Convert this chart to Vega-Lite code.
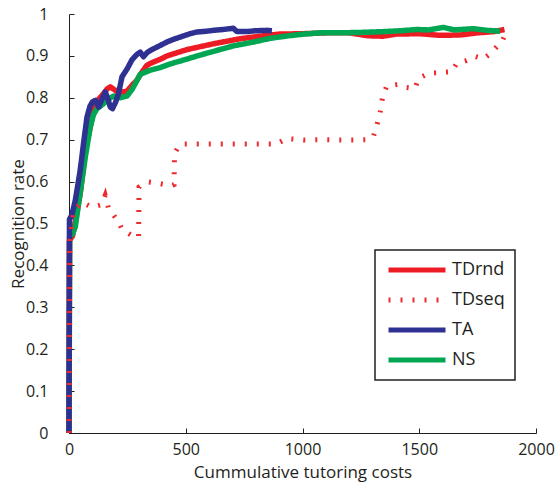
{
  "$schema": "https://vega.github.io/schema/vega-lite/v6.json",
  "width": 467,
  "height": 419,
  "autosize": "none",
  "padding": {"left": 69, "top": 14, "right": 20, "bottom": 49},
  "background": "white",
  "config": {
    "font": "Open Sans",
    "view": {"stroke": null},
    "axis": {
      "domainColor": "#231F20",
      "domainWidth": 1,
      "tickColor": "#231F20",
      "tickWidth": 1,
      "tickSize": -5,
      "labelColor": "#231F20",
      "titleColor": "#231F20",
      "labelFontSize": 16,
      "titleFontSize": 17,
      "titleFontWeight": "normal",
      "grid": false
    },
    "legend": {
      "orient": "none",
      "legendX": 306,
      "legendY": 236,
      "strokeColor": "#231F20",
      "strokeWidth": 1.5,
      "fillColor": "white",
      "padding": 10,
      "labelFontSize": 18,
      "labelColor": "#231F20",
      "symbolType": "M-4,0H4",
      "symbolSize": 203,
      "symbolStrokeWidth": 5,
      "symbolOffset": 22,
      "rowPadding": 10,
      "labelOffset": 25
    }
  },
  "data": {
    "values": [
      {"series": "TA", "cost": 0, "rate": 0},
      {"series": "TA", "cost": 2, "rate": 0.51},
      {"series": "TA", "cost": 12, "rate": 0.52},
      {"series": "TA", "cost": 27, "rate": 0.555},
      {"series": "TA", "cost": 48, "rate": 0.627},
      {"series": "TA", "cost": 62, "rate": 0.69},
      {"series": "TA", "cost": 77, "rate": 0.754},
      {"series": "TA", "cost": 90, "rate": 0.78},
      {"series": "TA", "cost": 100, "rate": 0.79},
      {"series": "TA", "cost": 113, "rate": 0.794},
      {"series": "TA", "cost": 127, "rate": 0.778},
      {"series": "TA", "cost": 140, "rate": 0.795},
      {"series": "TA", "cost": 155, "rate": 0.814},
      {"series": "TA", "cost": 165, "rate": 0.8},
      {"series": "TA", "cost": 177, "rate": 0.778},
      {"series": "TA", "cost": 186, "rate": 0.774},
      {"series": "TA", "cost": 200, "rate": 0.79},
      {"series": "TA", "cost": 212, "rate": 0.81},
      {"series": "TA", "cost": 227, "rate": 0.85},
      {"series": "TA", "cost": 250, "rate": 0.87},
      {"series": "TA", "cost": 270, "rate": 0.891},
      {"series": "TA", "cost": 290, "rate": 0.903},
      {"series": "TA", "cost": 305, "rate": 0.909},
      {"series": "TA", "cost": 319, "rate": 0.898},
      {"series": "TA", "cost": 335, "rate": 0.908},
      {"series": "TA", "cost": 348, "rate": 0.913},
      {"series": "TA", "cost": 380, "rate": 0.922},
      {"series": "TA", "cost": 419, "rate": 0.933},
      {"series": "TA", "cost": 450, "rate": 0.94},
      {"series": "TA", "cost": 476, "rate": 0.945},
      {"series": "TA", "cost": 519, "rate": 0.953},
      {"series": "TA", "cost": 548, "rate": 0.957},
      {"series": "TA", "cost": 590, "rate": 0.959},
      {"series": "TA", "cost": 619, "rate": 0.961},
      {"series": "TA", "cost": 660, "rate": 0.963},
      {"series": "TA", "cost": 704, "rate": 0.966},
      {"series": "TA", "cost": 719, "rate": 0.958},
      {"series": "TA", "cost": 760, "rate": 0.958},
      {"series": "TA", "cost": 800, "rate": 0.96},
      {"series": "TA", "cost": 847, "rate": 0.961},
      {"series": "TA", "cost": 869, "rate": 0.96},

      {"series": "TDrnd", "cost": 0, "rate": 0},
      {"series": "TDrnd", "cost": 2, "rate": 0.46},
      {"series": "TDrnd", "cost": 15, "rate": 0.47},
      {"series": "TDrnd", "cost": 20, "rate": 0.484},
      {"series": "TDrnd", "cost": 35, "rate": 0.53},
      {"series": "TDrnd", "cost": 48, "rate": 0.571},
      {"series": "TDrnd", "cost": 70, "rate": 0.675},
      {"series": "TDrnd", "cost": 91, "rate": 0.73},
      {"series": "TDrnd", "cost": 105, "rate": 0.77},
      {"series": "TDrnd", "cost": 125, "rate": 0.795},
      {"series": "TDrnd", "cost": 148, "rate": 0.81},
      {"series": "TDrnd", "cost": 165, "rate": 0.822},
      {"series": "TDrnd", "cost": 177, "rate": 0.826},
      {"series": "TDrnd", "cost": 198, "rate": 0.818},
      {"series": "TDrnd", "cost": 212, "rate": 0.812},
      {"series": "TDrnd", "cost": 248, "rate": 0.816},
      {"series": "TDrnd", "cost": 270, "rate": 0.83},
      {"series": "TDrnd", "cost": 291, "rate": 0.842},
      {"series": "TDrnd", "cost": 305, "rate": 0.855},
      {"series": "TDrnd", "cost": 334, "rate": 0.878},
      {"series": "TDrnd", "cost": 360, "rate": 0.885},
      {"series": "TDrnd", "cost": 391, "rate": 0.892},
      {"series": "TDrnd", "cost": 420, "rate": 0.9},
      {"series": "TDrnd", "cost": 448, "rate": 0.905},
      {"series": "TDrnd", "cost": 505, "rate": 0.915},
      {"series": "TDrnd", "cost": 562, "rate": 0.922},
      {"series": "TDrnd", "cost": 619, "rate": 0.929},
      {"series": "TDrnd", "cost": 676, "rate": 0.935},
      {"series": "TDrnd", "cost": 733, "rate": 0.941},
      {"series": "TDrnd", "cost": 790, "rate": 0.945},
      {"series": "TDrnd", "cost": 847, "rate": 0.949},
      {"series": "TDrnd", "cost": 900, "rate": 0.952},
      {"series": "TDrnd", "cost": 1000, "rate": 0.953},
      {"series": "TDrnd", "cost": 1100, "rate": 0.955},
      {"series": "TDrnd", "cost": 1200, "rate": 0.955},
      {"series": "TDrnd", "cost": 1280, "rate": 0.948},
      {"series": "TDrnd", "cost": 1345, "rate": 0.947},
      {"series": "TDrnd", "cost": 1400, "rate": 0.952},
      {"series": "TDrnd", "cost": 1500, "rate": 0.953},
      {"series": "TDrnd", "cost": 1590, "rate": 0.949},
      {"series": "TDrnd", "cost": 1675, "rate": 0.95},
      {"series": "TDrnd", "cost": 1750, "rate": 0.955},
      {"series": "TDrnd", "cost": 1820, "rate": 0.958},
      {"series": "TDrnd", "cost": 1865, "rate": 0.963},

      {"series": "NS", "cost": 0, "rate": 0},
      {"series": "NS", "cost": 3, "rate": 0.47},
      {"series": "NS", "cost": 15, "rate": 0.475},
      {"series": "NS", "cost": 27, "rate": 0.492},
      {"series": "NS", "cost": 41, "rate": 0.547},
      {"series": "NS", "cost": 55, "rate": 0.6},
      {"series": "NS", "cost": 70, "rate": 0.659},
      {"series": "NS", "cost": 91, "rate": 0.73},
      {"series": "NS", "cost": 105, "rate": 0.76},
      {"series": "NS", "cost": 120, "rate": 0.774},
      {"series": "NS", "cost": 148, "rate": 0.786},
      {"series": "NS", "cost": 170, "rate": 0.797},
      {"series": "NS", "cost": 191, "rate": 0.804},
      {"series": "NS", "cost": 220, "rate": 0.8},
      {"series": "NS", "cost": 248, "rate": 0.804},
      {"series": "NS", "cost": 270, "rate": 0.82},
      {"series": "NS", "cost": 284, "rate": 0.834},
      {"series": "NS", "cost": 305, "rate": 0.856},
      {"series": "NS", "cost": 348, "rate": 0.866},
      {"series": "NS", "cost": 390, "rate": 0.872},
      {"series": "NS", "cost": 434, "rate": 0.881},
      {"series": "NS", "cost": 490, "rate": 0.89},
      {"series": "NS", "cost": 562, "rate": 0.902},
      {"series": "NS", "cost": 633, "rate": 0.913},
      {"series": "NS", "cost": 704, "rate": 0.924},
      {"series": "NS", "cost": 790, "rate": 0.933},
      {"series": "NS", "cost": 862, "rate": 0.942},
      {"series": "NS", "cost": 940, "rate": 0.948},
      {"series": "NS", "cost": 1004, "rate": 0.952},
      {"series": "NS", "cost": 1076, "rate": 0.955},
      {"series": "NS", "cost": 1150, "rate": 0.955},
      {"series": "NS", "cost": 1247, "rate": 0.956},
      {"series": "NS", "cost": 1350, "rate": 0.958},
      {"series": "NS", "cost": 1420, "rate": 0.96},
      {"series": "NS", "cost": 1489, "rate": 0.963},
      {"series": "NS", "cost": 1540, "rate": 0.962},
      {"series": "NS", "cost": 1603, "rate": 0.968},
      {"series": "NS", "cost": 1650, "rate": 0.962},
      {"series": "NS", "cost": 1732, "rate": 0.965},
      {"series": "NS", "cost": 1790, "rate": 0.961},
      {"series": "NS", "cost": 1846, "rate": 0.959},

      {"series": "TDseq", "cost": 0, "rate": 0},
      {"series": "TDseq", "cost": 3, "rate": 0.46},
      {"series": "TDseq", "cost": 20, "rate": 0.53},
      {"series": "TDseq", "cost": 55, "rate": 0.551},
      {"series": "TDseq", "cost": 98, "rate": 0.539},
      {"series": "TDseq", "cost": 140, "rate": 0.545},
      {"series": "TDseq", "cost": 155, "rate": 0.567},
      {"series": "TDseq", "cost": 170, "rate": 0.535},
      {"series": "TDseq", "cost": 191, "rate": 0.52},
      {"series": "TDseq", "cost": 212, "rate": 0.504},
      {"series": "TDseq", "cost": 227, "rate": 0.486},
      {"series": "TDseq", "cost": 255, "rate": 0.476},
      {"series": "TDseq", "cost": 288, "rate": 0.465},
      {"series": "TDseq", "cost": 298, "rate": 0.47},
      {"series": "TDseq", "cost": 300, "rate": 0.587},
      {"series": "TDseq", "cost": 341, "rate": 0.599},
      {"series": "TDseq", "cost": 391, "rate": 0.595},
      {"series": "TDseq", "cost": 434, "rate": 0.59},
      {"series": "TDseq", "cost": 450, "rate": 0.593},
      {"series": "TDseq", "cost": 452, "rate": 0.667},
      {"series": "TDseq", "cost": 470, "rate": 0.685},
      {"series": "TDseq", "cost": 484, "rate": 0.69},
      {"series": "TDseq", "cost": 533, "rate": 0.69},
      {"series": "TDseq", "cost": 633, "rate": 0.69},
      {"series": "TDseq", "cost": 750, "rate": 0.69},
      {"series": "TDseq", "cost": 847, "rate": 0.69},
      {"series": "TDseq", "cost": 890, "rate": 0.69},
      {"series": "TDseq", "cost": 933, "rate": 0.703},
      {"series": "TDseq", "cost": 1004, "rate": 0.699},
      {"series": "TDseq", "cost": 1090, "rate": 0.7},
      {"series": "TDseq", "cost": 1200, "rate": 0.699},
      {"series": "TDseq", "cost": 1282, "rate": 0.7},
      {"series": "TDseq", "cost": 1304, "rate": 0.708},
      {"series": "TDseq", "cost": 1318, "rate": 0.734},
      {"series": "TDseq", "cost": 1332, "rate": 0.762},
      {"series": "TDseq", "cost": 1344, "rate": 0.806},
      {"series": "TDseq", "cost": 1361, "rate": 0.828},
      {"series": "TDseq", "cost": 1411, "rate": 0.832},
      {"series": "TDseq", "cost": 1440, "rate": 0.825},
      {"series": "TDseq", "cost": 1482, "rate": 0.822},
      {"series": "TDseq", "cost": 1496, "rate": 0.846},
      {"series": "TDseq", "cost": 1539, "rate": 0.858},
      {"series": "TDseq", "cost": 1603, "rate": 0.861},
      {"series": "TDseq", "cost": 1639, "rate": 0.862},
      {"series": "TDseq", "cost": 1660, "rate": 0.882},
      {"series": "TDseq", "cost": 1703, "rate": 0.889},
      {"series": "TDseq", "cost": 1739, "rate": 0.899},
      {"series": "TDseq", "cost": 1775, "rate": 0.893},
      {"series": "TDseq", "cost": 1803, "rate": 0.905},
      {"series": "TDseq", "cost": 1832, "rate": 0.922},
      {"series": "TDseq", "cost": 1853, "rate": 0.932},
      {"series": "TDseq", "cost": 1867, "rate": 0.95}
    ]
  },
  "encoding": {
    "x": {
      "field": "cost", "type": "quantitative",
      "scale": {"domain": [0, 2000], "nice": false, "zero": false},
      "axis": {"title": "Cummulative tutoring costs", "values": [0, 500, 1000, 1500, 2000], "format": "d", "labelPadding": 13, "titlePadding": 7, "labelFlush": false}
    },
    "y": {
      "field": "rate", "type": "quantitative",
      "scale": {"domain": [0, 1], "nice": false},
      "axis": {"title": "Recognition rate", "values": [0, 0.1, 0.2, 0.3, 0.4, 0.5, 0.6, 0.7, 0.8, 0.9, 1], "format": ".1~f", "labelPadding": 26, "titlePadding": -2, "labelFlush": false}
    },
    "color": {
      "field": "series", "type": "nominal", "title": null,
      "scale": {"domain": ["TDrnd", "TDseq", "TA", "NS"], "range": ["#ED1C24", "#EE2A2F", "#2E3192", "#00A651"]}
    },
    "strokeDash": {
      "field": "series", "type": "nominal", "title": null,
      "scale": {"domain": ["TDrnd", "TDseq", "TA", "NS"], "range": [[1, 0], [2, 10], [1, 0], [1, 0]]}
    }
  },
  "layer": [
    {"transform": [{"filter": "datum.series === 'TDrnd'"}], "mark": {"type": "line", "strokeWidth": 5.5, "strokeJoin": "round"}},
    {"transform": [{"filter": "datum.series === 'NS'"}], "mark": {"type": "line", "strokeWidth": 5.5, "strokeJoin": "round"}},
    {"transform": [{"filter": "datum.series === 'TA'"}], "mark": {"type": "line", "strokeWidth": 5.5, "strokeJoin": "round"}},
    {"transform": [{"filter": "datum.series === 'TDseq'"}], "mark": {"type": "line", "strokeWidth": 5, "strokeCap": "butt"}}
  ]
}
